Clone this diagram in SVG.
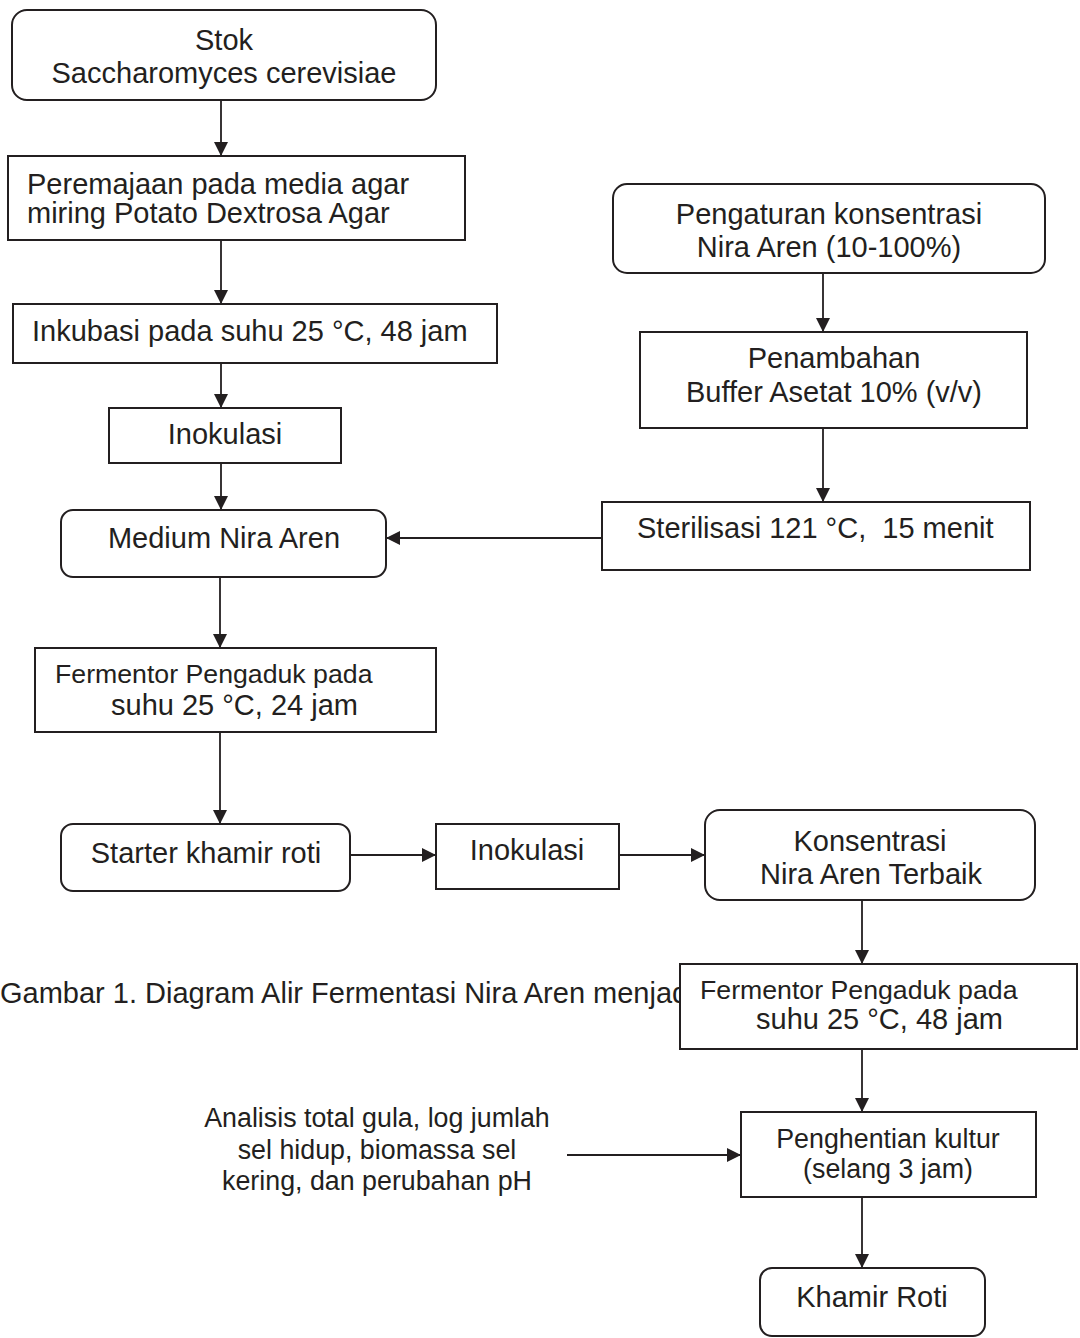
<svg xmlns="http://www.w3.org/2000/svg" width="1080" height="1338" viewBox="0 0 1080 1338">
<style>
.box{fill:#fff;stroke:#231f20;stroke-width:2}
.t{font-family:"Liberation Sans",Arial,sans-serif;font-size:29px;fill:#231f20}
.s{font-size:26.7px}
.m{text-anchor:middle}
.ln{fill:none;stroke:#231f20;stroke-width:1.8}
</style>
<defs>
<marker id="ah" markerUnits="userSpaceOnUse" markerWidth="14" markerHeight="14" refX="14" refY="7" orient="auto">
<path d="M0,0 L14,7 L0,14 Z" fill="#231f20"/>
</marker>
</defs>
<rect width="1080" height="1338" fill="#fff"/>
<text class="t" x="0" y="1003">Gambar 1. Diagram Alir Fermentasi Nira Aren menjadi</text>
<g id="connectors">
<line class="ln" x1="221" y1="100" x2="221" y2="156" marker-end="url(#ah)"/>
<line class="ln" x1="221" y1="240" x2="221" y2="304" marker-end="url(#ah)"/>
<line class="ln" x1="221" y1="363" x2="221" y2="408" marker-end="url(#ah)"/>
<line class="ln" x1="221" y1="463" x2="221" y2="510" marker-end="url(#ah)"/>
<line class="ln" x1="220" y1="577" x2="220" y2="648" marker-end="url(#ah)"/>
<line class="ln" x1="220" y1="732" x2="220" y2="824" marker-end="url(#ah)"/>
<line class="ln" x1="823" y1="273" x2="823" y2="332" marker-end="url(#ah)"/>
<line class="ln" x1="823" y1="428" x2="823" y2="502" marker-end="url(#ah)"/>
<line class="ln" x1="602" y1="538" x2="386" y2="538" marker-end="url(#ah)"/>
<line class="ln" x1="350" y1="855" x2="436" y2="855" marker-end="url(#ah)"/>
<line class="ln" x1="619" y1="855" x2="705" y2="855" marker-end="url(#ah)"/>
<line class="ln" x1="862" y1="900" x2="862" y2="964" marker-end="url(#ah)"/>
<line class="ln" x1="862" y1="1049" x2="862" y2="1112" marker-end="url(#ah)"/>
<line class="ln" x1="567" y1="1155" x2="741" y2="1155" marker-end="url(#ah)"/>
<line class="ln" x1="862" y1="1197" x2="862" y2="1268" marker-end="url(#ah)"/>
</g>
<g id="stok">
<rect class="box" x="12" y="10" width="424" height="90" rx="15"/>
<text class="t m" x="224" y="50">Stok</text>
<text class="t m" x="224" y="83">Saccharomyces cerevisiae</text>
</g>
<g id="peremajaan">
<rect class="box" x="8" y="156" width="457" height="84"/>
<text class="t" x="27" y="194">Peremajaan pada media agar</text>
<text class="t" x="27" y="223">miring Potato Dextrosa Agar</text>
</g>
<g id="inkubasi">
<rect class="box" x="13" y="304" width="484" height="59"/>
<text class="t" x="32" y="341">Inkubasi pada suhu 25 °C, 48 jam</text>
</g>
<g id="inokulasi1">
<rect class="box" x="109" y="408" width="232" height="55"/>
<text class="t m" x="225" y="444">Inokulasi</text>
</g>
<g id="medium">
<rect class="box" x="61" y="510" width="325" height="67" rx="12"/>
<text class="t m" x="224" y="548">Medium Nira Aren</text>
</g>
<g id="fermentor1">
<rect class="box" x="35" y="648" width="401" height="84"/>
<text class="t s" x="55" y="683">Fermentor Pengaduk pada</text>
<text class="t" x="111" y="715">suhu 25 °C, 24 jam</text>
</g>
<g id="starter">
<rect class="box" x="61" y="824" width="289" height="67" rx="12"/>
<text class="t m" x="206" y="863">Starter khamir roti</text>
</g>
<g id="inokulasi2">
<rect class="box" x="436" y="824" width="183" height="65"/>
<text class="t m" x="527" y="860">Inokulasi</text>
</g>
<g id="pengaturan">
<rect class="box" x="613" y="184" width="432" height="89" rx="14"/>
<text class="t m" x="829" y="224">Pengaturan konsentrasi</text>
<text class="t m" x="829" y="257">Nira Aren (10-100%)</text>
</g>
<g id="penambahan">
<rect class="box" x="640" y="332" width="387" height="96"/>
<text class="t m" x="834" y="368">Penambahan</text>
<text class="t m" x="834" y="402">Buffer Asetat 10% (v/v)</text>
</g>
<g id="sterilisasi">
<rect class="box" x="602" y="502" width="428" height="68"/>
<text class="t" x="637" y="538" xml:space="preserve">Sterilisasi 121 °C,  15 menit</text>
</g>
<g id="konsentrasi">
<rect class="box" x="705" y="810" width="330" height="90" rx="15"/>
<text class="t m" x="870" y="851">Konsentrasi</text>
<text class="t m" x="871" y="884">Nira Aren Terbaik</text>
</g>
<g id="fermentor2">
<rect class="box" x="680" y="964" width="397" height="85"/>
<text class="t s" x="700" y="999">Fermentor Pengaduk pada</text>
<text class="t" x="756" y="1029">suhu 25 °C, 48 jam</text>
</g>
<g id="analisis">
<text class="t m" x="377" y="1127" style="font-size:26.8px">Analisis total gula, log jumlah</text>
<text class="t m" x="377" y="1159" style="font-size:26.8px">sel hidup, biomassa sel</text>
<text class="t m" x="377" y="1190" style="font-size:26.8px">kering, dan perubahan pH</text>
</g>
<g id="penghentian">
<rect class="box" x="741" y="1112" width="295" height="85"/>
<text class="t m" x="888" y="1148" style="font-size:26.8px">Penghentian kultur</text>
<text class="t m" x="888" y="1178" style="font-size:26.8px">(selang 3 jam)</text>
</g>
<g id="khamir">
<rect class="box" x="760" y="1268" width="225" height="68" rx="12"/>
<text class="t m" x="872" y="1307">Khamir Roti</text>
</g>
</svg>
